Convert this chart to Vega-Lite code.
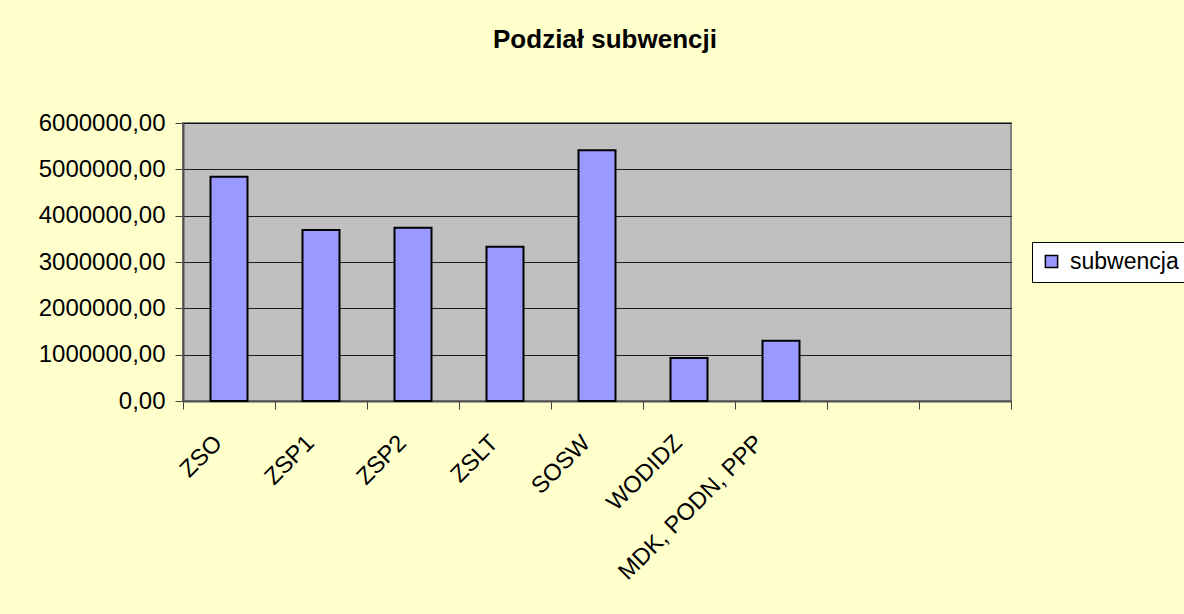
{
  "$schema": "https://vega.github.io/schema/vega-lite/v6.json",
  "autosize": "none",
  "width": 828,
  "height": 278,
  "padding": {"left": 183, "top": 123, "right": 173, "bottom": 213},
  "background": "#FFFFCC",
  "title": {
    "text": "Podział subwencji",
    "font": "Liberation Sans",
    "fontSize": 26,
    "fontWeight": "bold",
    "color": "#000000",
    "anchor": "middle",
    "frame": "group",
    "baseline": "alphabetic",
    "offset": 37,
    "dx": 8
  },
  "data": {
    "values": [
      {"kategoria": "ZSO", "wartosc": 4840000, "seria": "subwencja"},
      {"kategoria": "ZSP1", "wartosc": 3690000, "seria": "subwencja"},
      {"kategoria": "ZSP2", "wartosc": 3740000, "seria": "subwencja"},
      {"kategoria": "ZSLT", "wartosc": 3330000, "seria": "subwencja"},
      {"kategoria": "SOSW", "wartosc": 5410000, "seria": "subwencja"},
      {"kategoria": "WODIDZ", "wartosc": 930000, "seria": "subwencja"},
      {"kategoria": "MDK, PODN, PPP", "wartosc": 1300000, "seria": "subwencja"}
    ]
  },
  "mark": {"type": "bar", "size": 37, "stroke": "#000000", "strokeWidth": 2},
  "encoding": {
    "x": {
      "field": "kategoria",
      "type": "nominal",
      "sort": null,
      "scale": {
        "domain": ["ZSO", "ZSP1", "ZSP2", "ZSLT", "SOSW", "WODIDZ", "MDK, PODN, PPP", " ", "  "],
        "paddingInner": 0,
        "paddingOuter": 0
      },
      "axis": {
        "title": null,
        "labelAngle": -45,
        "labelAlign": "right",
        "labelBaseline": "middle",
        "labelFont": "Liberation Sans",
        "labelFontSize": 23.5,
        "labelColor": "#000000",
        "labelPadding": 30,
        "labelOffset": {"condition": {"test": "datum.value === 'MDK, PODN, PPP'", "value": -22}, "value": -11},
        "labelOverlap": false,
        "labelFlush": false,
        "labelLimit": 0,
        "tickBand": "extent",
        "tickSize": 8,
        "tickColor": "#404040",
        "tickWidth": 1,
        "domainColor": "#505050",
        "domainWidth": 2,
        "grid": false
      }
    },
    "y": {
      "field": "wartosc",
      "type": "quantitative",
      "scale": {"domain": [0, 6000000], "nice": false},
      "axis": {
        "title": null,
        "values": [0, 1000000, 2000000, 3000000, 4000000, 5000000, 6000000],
        "labelExpr": "format(datum.value, 'd') + ',00'",
        "labelFont": "Liberation Sans",
        "labelFontSize": 24,
        "labelColor": "#000000",
        "labelPadding": 10,
        "tickSize": 8,
        "tickColor": "#404040",
        "tickWidth": 1,
        "domainColor": "#505050",
        "domainWidth": 2,
        "grid": true,
        "gridColor": "#000000",
        "gridWidth": 1,
        "gridOpacity": 0.85
      }
    },
    "color": {
      "field": "seria",
      "type": "nominal",
      "scale": {"range": ["#9999FF"]},
      "legend": {
        "title": null,
        "orient": "none",
        "legendX": 849,
        "legendY": 119,
        "fillColor": "#FFFFFF",
        "strokeColor": "#000000",
        "padding": 8,
        "symbolType": "square",
        "symbolSize": 150,
        "symbolStrokeColor": "#000000",
        "symbolStrokeWidth": 1.5,
        "symbolOpacity": 1,
        "labelFont": "Liberation Sans",
        "labelFontSize": 23,
        "labelColor": "#000000",
        "labelOffset": 7,
        "labelLimit": 0
      }
    }
  },
  "config": {
    "view": {"fill": "#C0C0C0", "stroke": "#808080", "strokeWidth": 2}
  }
}
